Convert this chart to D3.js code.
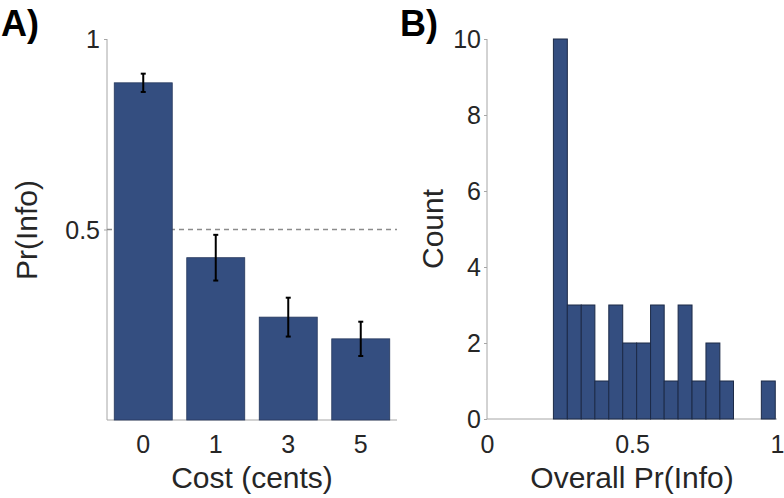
<!DOCTYPE html>
<html>
<head>
<meta charset="utf-8">
<script src="https://cdn.jsdelivr.net/npm/d3@7"></script>
<style>
  body { margin: 0; background: #fff; }
  svg text { font-family: "Liberation Sans", Arial, sans-serif; fill: #262626; }
</style>
</head>
<body>
<div id="chart"></div>
<script>
// Panel A data: Pr(Info) by cost
var costs = ["0", "1", "3", "5"];
var prInfo = [0.885, 0.426, 0.270, 0.213];
var prInfoErr = [0.024, 0.060, 0.051, 0.045];
var yTicksA = [0.5, 1];

// Panel B data: histogram of overall Pr(Info)
var binEdges = [0.229, 0.277, 0.325, 0.372, 0.420, 0.468, 0.516, 0.564, 0.611,
                0.659, 0.707, 0.755, 0.803, 0.850, 0.898, 0.946, 0.994];
var binCounts = [10, 3, 3, 1, 3, 2, 2, 3, 1, 3, 1, 2, 1, 0, 0, 1];
var xTicksB = [0, 0.5, 1];
var yTicksB = [0, 2, 4, 6, 8, 10];

var barColor = "#344e80";
var axisColor = "#a6a6a6";

var svg = d3.select("#chart")
    .append("svg")
    .attr("width", 784)
    .attr("height", 498);

// ---------- Panel A ----------
var xA = d3.scaleBand()
    .domain(costs)
    .range([107, 397])
    .paddingInner(0.2)
    .paddingOuter(0.1);

var yA = d3.scaleLinear()
    .domain([0, 1])
    .range([420, 39]);

// y axis
var gyA = svg.append("g")
    .attr("transform", "translate(107,0)")
    .call(d3.axisLeft(yA).tickValues(yTicksA).tickFormat(d3.format("")).tickSize(3).tickPadding(4));
gyA.select(".domain").attr("stroke", axisColor).attr("d", "M0," + yA(1) + "V" + yA(0));
gyA.selectAll(".tick line").attr("stroke", axisColor);
gyA.selectAll(".tick text").style("font-size", "25px").attr("dy", "0.35em").attr("fill", "#262626");

// x axis
var gxA = svg.append("g")
    .attr("transform", "translate(0,420)")
    .call(d3.axisBottom(xA).tickSize(0).tickPadding(15));
gxA.select(".domain").attr("stroke", axisColor).attr("d", "M107,0H397");
gxA.selectAll(".tick text").style("font-size", "25px").attr("fill", "#262626");

// dashed reference line at 0.5
svg.append("line")
    .attr("x1", 107)
    .attr("x2", 397)
    .attr("y1", yA(0.5))
    .attr("y2", yA(0.5))
    .attr("stroke", "#8c8c8c")
    .attr("stroke-width", 1.3)
    .attr("stroke-dasharray", "5,4");

// bars
svg.selectAll(".barA")
    .data(costs)
    .enter()
    .append("rect")
    .attr("class", "barA")
    .attr("x", function(d) { return xA(d); })
    .attr("width", xA.bandwidth())
    .attr("y", function(d, i) { return yA(prInfo[i]); })
    .attr("height", function(d, i) { return yA(0) - yA(prInfo[i]); })
    .attr("fill", barColor)
    .attr("stroke", "#26385c")
    .attr("stroke-width", 0.8);

// error bars
var eb = svg.selectAll(".errA")
    .data(costs)
    .enter()
    .append("g")
    .attr("class", "errA");

eb.append("line")
    .attr("x1", function(d) { return xA(d) + xA.bandwidth() / 2; })
    .attr("x2", function(d) { return xA(d) + xA.bandwidth() / 2; })
    .attr("y1", function(d, i) { return yA(prInfo[i] + prInfoErr[i]); })
    .attr("y2", function(d, i) { return yA(prInfo[i] - prInfoErr[i]); })
    .attr("stroke", "#000")
    .attr("stroke-width", 2);

// caps
[1, -1].forEach(function(s) {
    eb.append("line")
        .attr("x1", function(d) { return xA(d) + xA.bandwidth() / 2 - 2.5; })
        .attr("x2", function(d) { return xA(d) + xA.bandwidth() / 2 + 2.5; })
        .attr("y1", function(d, i) { return yA(prInfo[i] + s * prInfoErr[i]); })
        .attr("y2", function(d, i) { return yA(prInfo[i] + s * prInfoErr[i]); })
        .attr("stroke", "#000")
        .attr("stroke-width", 2);
});

// axis labels
svg.append("text")
    .attr("x", 252)
    .attr("y", 488)
    .attr("text-anchor", "middle")
    .style("font-size", "30px")
    .text("Cost (cents)");

svg.append("text")
    .attr("transform", "translate(37,230) rotate(-90)")
    .attr("text-anchor", "middle")
    .style("font-size", "30px")
    .text("Pr(Info)");

svg.append("text")
    .attr("x", 1)
    .attr("y", 36)
    .style("font-size", "36px")
    .style("font-weight", "bold")
    .style("fill", "#000")
    .text("A)");

// ---------- Panel B ----------
var xB = d3.scaleLinear()
    .domain([0, 1])
    .range([487, 777]);

var yB = d3.scaleLinear()
    .domain([0, 10])
    .range([419, 39]);

var gyB = svg.append("g")
    .attr("transform", "translate(487,0)")
    .call(d3.axisLeft(yB).tickValues(yTicksB).tickSize(3).tickPadding(3));
gyB.select(".domain").attr("stroke", axisColor).attr("d", "M0," + yB(10) + "V" + yB(0));
gyB.selectAll(".tick line").attr("stroke", axisColor);
gyB.selectAll(".tick text").style("font-size", "25px").attr("dy", "0.35em").attr("fill", "#262626");

var gxB = svg.append("g")
    .attr("transform", "translate(0,419)")
    .call(d3.axisBottom(xB).tickValues(xTicksB).tickFormat(d3.format("")).tickSize(0).tickPadding(16));
gxB.select(".domain").attr("stroke", axisColor).attr("d", "M487,0H777");
gxB.selectAll(".tick text").style("font-size", "25px").attr("fill", "#262626");

// histogram bars (empty bins are skipped)
var bins = binCounts.map(function(c, i) { return { x0: binEdges[i], x1: binEdges[i + 1], n: c }; })
    .filter(function(b) { return b.n > 0; });

svg.selectAll(".barB")
    .data(bins)
    .enter()
    .append("rect")
    .attr("class", "barB")
    .attr("x", function(d) { return xB(d.x0); })
    .attr("width", function(d) { return xB(d.x1) - xB(d.x0); })
    .attr("y", function(d) { return yB(d.n); })
    .attr("height", function(d) { return yB(0) - yB(d.n); })
    .attr("fill", barColor)
    .attr("stroke", "#1c2a47")
    .attr("stroke-width", 1);

svg.append("text")
    .attr("x", 632)
    .attr("y", 488)
    .attr("text-anchor", "middle")
    .style("font-size", "30px")
    .text("Overall Pr(Info)");

svg.append("text")
    .attr("transform", "translate(443,229) rotate(-90)")
    .attr("text-anchor", "middle")
    .style("font-size", "30px")
    .text("Count");

svg.append("text")
    .attr("x", 400)
    .attr("y", 36)
    .style("font-size", "36px")
    .style("font-weight", "bold")
    .style("fill", "#000")
    .text("B)");
</script>
</body>
</html>
